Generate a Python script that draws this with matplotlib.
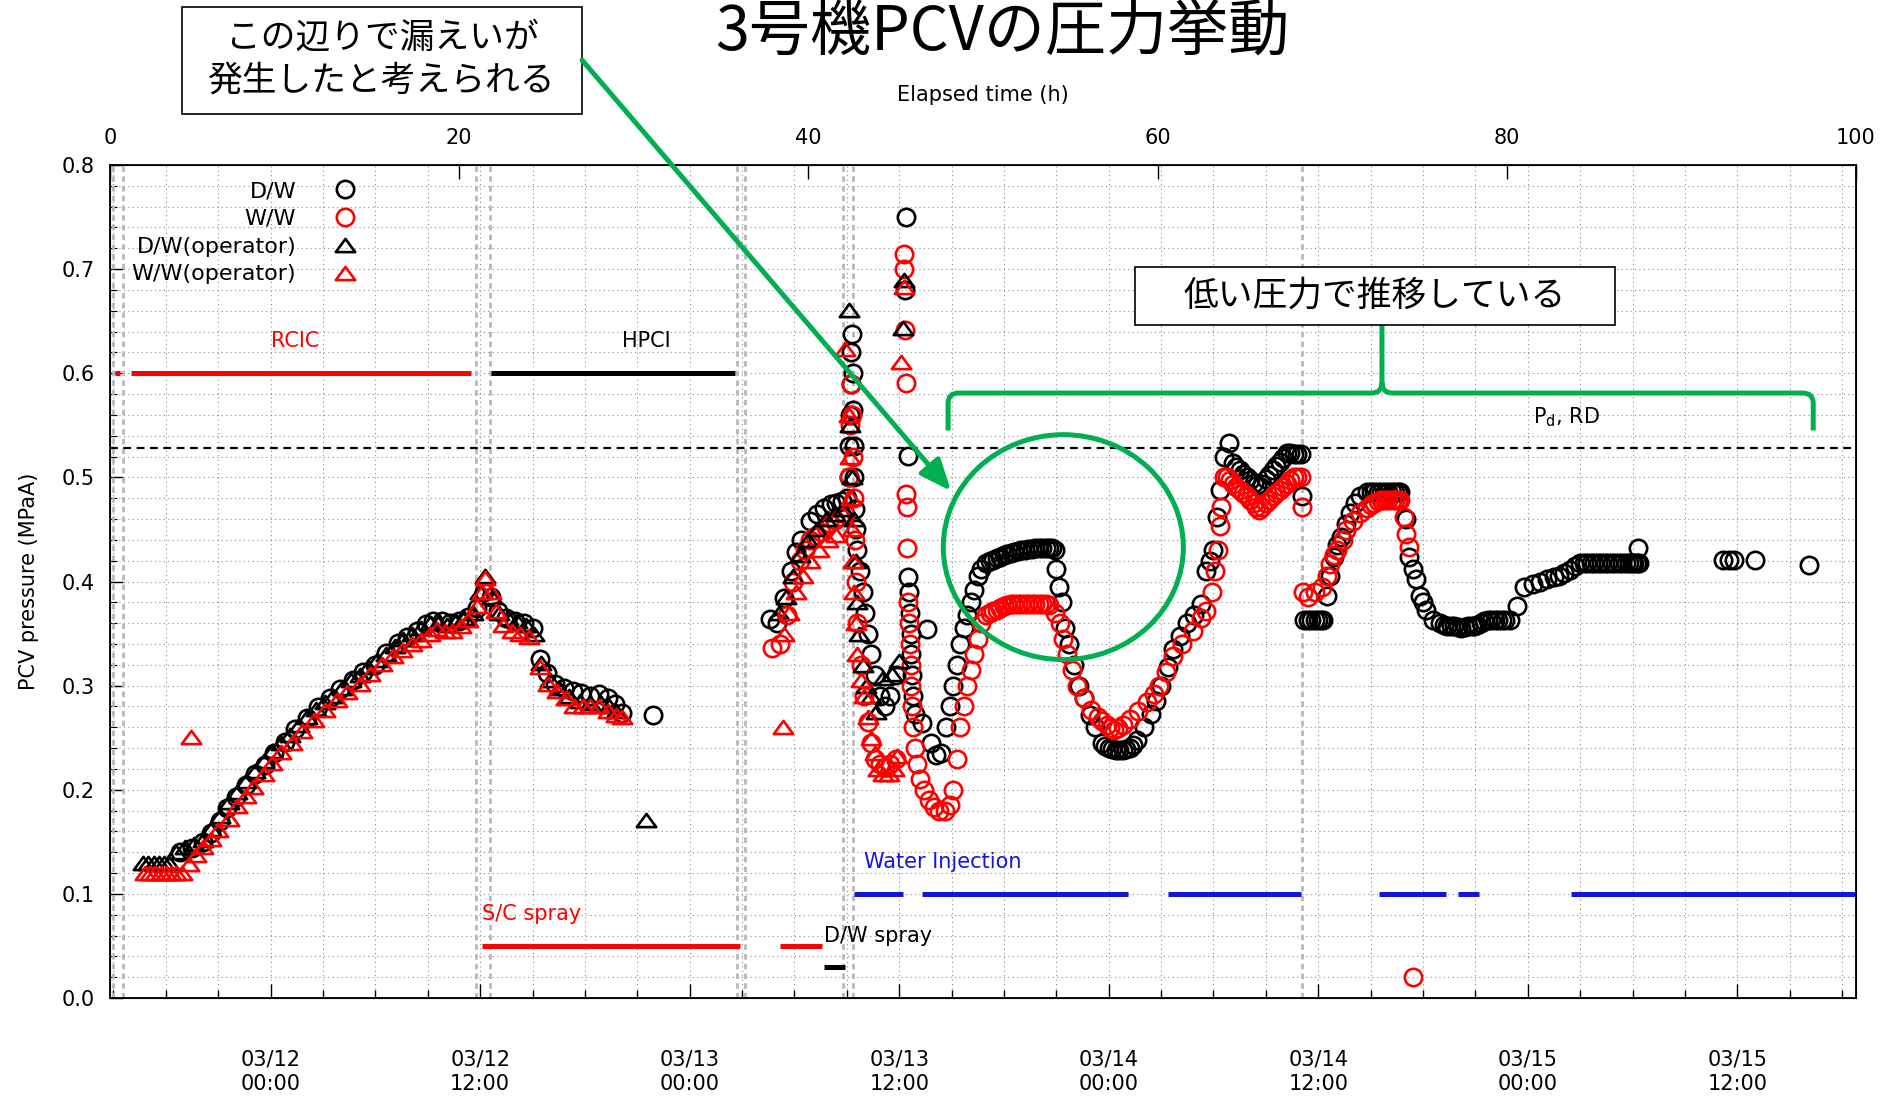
import matplotlib
matplotlib.use("Agg")
import matplotlib.pyplot as plt
import numpy as np
from matplotlib.path import Path
from matplotlib.patches import PathPatch, Ellipse, Rectangle, FancyArrowPatch

plt.rcParams['font.family'] = ['DejaVu Sans', 'Noto Sans CJK JP']
JP = ['Noto Sans CJK JP', 'DejaVu Sans']

# ---- measured pressures (elapsed hours, MPa abs) ----
dw_t = [4.0, 4.7, 5.3, 5.8, 6.3, 6.7, 7.2, 7.8, 8.3, 8.9, 9.4, 10.0, 10.6, 11.3, 11.9, 12.6,
        13.2, 13.9, 14.5, 15.2, 15.8, 16.5, 17.0, 17.6, 18.1, 18.5, 19.0, 19.5, 20.0, 20.5,
        21.0, 21.4, 21.8, 22.2, 22.7, 23.2, 23.7, 24.2, 24.6, 25.0, 25.5, 26.0, 26.5, 27.0,
        27.5, 28.0, 28.5, 28.9, 29.3, 31.1,
        37.8, 38.2, 38.6, 39.0, 39.3, 39.6, 40.1, 40.5, 40.9, 41.3, 41.6, 41.9, 42.2, 42.3,
        42.35, 42.4, 42.45, 42.45, 42.5, 42.55, 42.55, 42.6, 42.6, 42.65, 42.7, 42.8, 42.95,
        43.1, 43.25, 43.4, 43.6, 43.8, 44.1, 44.4, 44.7, 45.0,
        45.6, 45.55, 45.7, 45.7, 45.75, 45.8, 45.85, 45.9, 45.95, 46.0, 46.1, 46.5, 46.8,
        47.0, 47.3, 47.6, 47.9, 48.1, 48.3, 48.5, 48.7, 48.9, 49.1, 49.3, 49.5, 49.7, 49.9,
        50.2, 50.4, 50.6, 50.8, 51.0, 51.2, 51.4, 51.6, 51.8, 52.0, 52.2, 52.4, 52.6, 52.8,
        53.0, 53.2, 53.4, 53.6, 53.8, 53.95, 54.1, 54.2, 54.35, 54.5,
        54.7, 54.9, 55.2, 55.5, 55.8, 56.1, 56.4, 56.8, 57.0, 57.2, 57.4, 57.6, 57.8, 58.0,
        58.2, 58.4, 58.6, 58.8, 59.2,
        59.6, 59.9, 60.2, 60.6, 60.9, 61.3, 61.7, 62.1, 62.5, 62.8, 63.0, 63.2, 63.4, 63.6,
        63.8, 64.1, 64.3, 64.5, 64.7, 64.9, 65.1, 65.3, 65.5, 65.7, 65.9, 66.0, 66.2, 66.4,
        66.6, 66.8, 67.0, 67.2, 67.4, 67.6, 67.8, 68.0, 68.2, 68.25,
        68.4, 68.6, 68.8, 69.0, 69.2, 69.35, 69.5, 69.7, 69.9, 70.1, 70.3, 70.5, 70.8, 71.0,
        71.3, 71.6, 72.0, 72.2, 72.4, 72.6, 72.8, 73.0, 73.2, 73.4, 73.6, 73.75, 73.9, 74.2,
        74.4, 74.6, 74.8, 75.0, 75.2, 75.4, 75.8, 76.2, 76.4, 76.6, 76.8, 77.0, 77.2, 77.4,
        77.6, 77.8, 78.0, 78.1, 78.3, 78.5, 78.7, 78.9, 79.1, 79.3, 79.5, 79.7, 79.9, 80.2,
        80.6, 81.0, 81.5, 81.9, 82.3, 82.7, 83.0, 83.3, 83.6, 83.9, 84.2, 84.4, 84.6, 84.8,
        85.0, 85.2, 85.4, 85.6, 85.8, 86.0, 86.2, 86.4, 86.6, 86.8, 87.0, 87.15, 87.3, 87.45,
        87.6, 87.5, 92.4, 92.7, 93.0, 94.2, 97.3]
dw_p = [0.140, 0.144, 0.150, 0.158, 0.170, 0.182, 0.193, 0.205, 0.215, 0.224, 0.235, 0.246,
        0.258, 0.269, 0.279, 0.288, 0.297, 0.305, 0.313, 0.320, 0.331, 0.341, 0.347, 0.352,
        0.359, 0.362, 0.362, 0.360, 0.362, 0.366, 0.375, 0.390, 0.385, 0.372, 0.365, 0.362,
        0.360, 0.355, 0.326, 0.312, 0.302, 0.298, 0.295, 0.293, 0.290, 0.292, 0.288, 0.282,
        0.274, 0.272,
        0.364, 0.360, 0.384, 0.410, 0.428, 0.440, 0.458, 0.465, 0.471, 0.474, 0.475, 0.477,
        0.480, 0.500, 0.530, 0.560, 0.590, 0.620, 0.638, 0.600, 0.565, 0.530, 0.500, 0.470,
        0.450, 0.430, 0.410, 0.390, 0.370, 0.350, 0.330, 0.310, 0.290, 0.280, 0.290, 0.310,
        0.750, 0.680, 0.521, 0.404, 0.390, 0.370, 0.350, 0.330, 0.310, 0.290, 0.273, 0.264,
        0.354, 0.245, 0.233, 0.235, 0.260, 0.280, 0.300, 0.320, 0.340, 0.355, 0.368, 0.380,
        0.392, 0.405, 0.412, 0.418, 0.420, 0.421, 0.423, 0.424, 0.425, 0.426, 0.427, 0.428,
        0.429, 0.430, 0.430, 0.431, 0.431, 0.432, 0.432, 0.432, 0.432, 0.432, 0.432,
        0.430, 0.412, 0.395, 0.380,
        0.355, 0.340, 0.320, 0.300, 0.288, 0.272, 0.260, 0.245, 0.242, 0.240, 0.239, 0.238,
        0.238, 0.238, 0.239, 0.240, 0.243, 0.248, 0.260,
        0.273, 0.285, 0.300, 0.318, 0.335, 0.348, 0.360, 0.368, 0.378, 0.410, 0.420, 0.430,
        0.462, 0.488, 0.520, 0.533, 0.514, 0.510, 0.507, 0.503, 0.500, 0.497, 0.495, 0.493,
        0.491, 0.494, 0.498, 0.502, 0.507, 0.511, 0.515, 0.519, 0.523, 0.523, 0.522, 0.522,
        0.522, 0.482,
        0.363, 0.363, 0.363, 0.363, 0.363, 0.363, 0.363, 0.386, 0.405, 0.424, 0.435, 0.443,
        0.455, 0.466, 0.475, 0.482, 0.486, 0.486, 0.486, 0.486, 0.486, 0.486, 0.486, 0.486,
        0.486, 0.486, 0.486, 0.460, 0.424, 0.412, 0.402, 0.386, 0.380, 0.373, 0.363, 0.360,
        0.358, 0.357, 0.357, 0.357, 0.356, 0.355, 0.356, 0.357, 0.357, 0.357, 0.358, 0.360,
        0.362, 0.363, 0.363, 0.363, 0.363, 0.363, 0.363, 0.363, 0.376, 0.395, 0.398, 0.400,
        0.402, 0.404, 0.405, 0.408, 0.411, 0.415, 0.418, 0.418, 0.418, 0.418, 0.418, 0.418,
        0.418, 0.418, 0.418, 0.418, 0.418, 0.418, 0.418, 0.418, 0.418, 0.418, 0.418, 0.418,
        0.418, 0.432, 0.421, 0.421, 0.421, 0.421, 0.416]

ww_t = [37.9, 38.4, 38.75, 39.1, 39.5, 39.8, 40.1, 40.4, 40.7, 41.0, 41.2, 41.5, 41.8, 42.1,
        42.35, 42.4, 42.45, 42.5, 42.55, 42.6, 42.65, 42.7, 42.8, 43.0, 43.2, 43.4, 43.6,
        43.8, 44.1, 44.4, 44.7, 45.0,
        45.5, 45.5, 45.55, 45.6, 45.6, 45.65, 45.65, 45.7, 45.75, 45.8, 45.85, 45.9, 45.95,
        46.0, 46.1, 46.2, 46.4, 46.6, 46.9, 47.2, 47.5, 47.8, 48.1, 48.3, 48.5, 48.7, 48.9,
        49.1, 49.3, 49.5, 49.7, 49.9, 50.2, 50.4, 50.6, 50.8, 51.0, 51.2, 51.4, 51.6, 51.8,
        52.0, 52.2, 52.4, 52.6, 52.8, 53.0, 53.2, 53.4, 53.6,
        53.8, 54.1, 54.4, 54.6, 54.8, 55.1, 55.4, 55.8, 56.2, 56.6, 56.8, 57.1, 57.3, 57.5,
        57.75, 58.0, 58.4,
        58.9, 59.4, 59.8, 60.1, 60.5, 60.9, 61.4, 62.0, 62.5, 62.8, 63.1, 63.3, 63.45, 63.55,
        63.65, 63.8, 64.0, 64.15, 64.3, 64.5, 64.7, 64.9, 65.1, 65.3, 65.5, 65.65, 65.8,
        66.0, 66.2, 66.4, 66.6, 66.8, 67.0, 67.2, 67.4, 67.6, 67.8, 68.0, 68.2, 68.25,
        68.3, 68.6, 69.0, 69.4, 69.7, 69.9, 70.1, 70.3, 70.6, 70.8, 71.2, 71.6, 72.0, 72.2,
        72.4, 72.6, 72.8, 73.0, 73.2, 73.4, 73.6, 73.75, 73.9, 74.1, 74.2, 74.4, 74.6]
ww_p = [0.336, 0.340, 0.368, 0.400, 0.420, 0.430, 0.440, 0.444, 0.448, 0.452, 0.456, 0.459,
        0.462, 0.465, 0.500, 0.550, 0.590, 0.560, 0.520, 0.480, 0.440, 0.400, 0.360, 0.320,
        0.290, 0.265, 0.245, 0.230, 0.225, 0.222, 0.225, 0.230,
        0.715, 0.700, 0.642, 0.591, 0.484, 0.472, 0.432, 0.380, 0.360, 0.340, 0.320, 0.300,
        0.280, 0.260, 0.240, 0.225, 0.210, 0.200, 0.190, 0.183, 0.180, 0.180, 0.185, 0.200,
        0.230, 0.260, 0.280, 0.300, 0.315, 0.330, 0.345, 0.360, 0.368, 0.370, 0.372, 0.373,
        0.375, 0.376, 0.377, 0.378, 0.378, 0.378, 0.378, 0.378, 0.378, 0.378, 0.378, 0.378,
        0.378, 0.378,
        0.377, 0.370, 0.360, 0.345, 0.330, 0.315, 0.300, 0.288, 0.277, 0.270, 0.266, 0.262,
        0.259, 0.257, 0.259, 0.262, 0.268,
        0.276, 0.284, 0.292, 0.300, 0.313, 0.328, 0.340, 0.352, 0.365, 0.372, 0.390, 0.410,
        0.430, 0.453, 0.472, 0.500, 0.500, 0.497, 0.494, 0.491, 0.488, 0.485, 0.482, 0.478,
        0.475, 0.472, 0.469, 0.472, 0.475, 0.478, 0.482, 0.485, 0.488, 0.491, 0.494, 0.497,
        0.500, 0.500, 0.500, 0.472,
        0.390, 0.385, 0.390, 0.395, 0.405, 0.417, 0.425, 0.430, 0.440, 0.449, 0.458, 0.466,
        0.471, 0.473, 0.475, 0.477, 0.478, 0.478, 0.478, 0.478, 0.478, 0.478, 0.478, 0.462,
        0.446, 0.433, 0.020]

# operator readings
dwop_t = [1.9, 2.2, 2.5, 2.8, 3.1, 3.4, 3.8, 4.3, 4.8, 5.3, 5.8, 6.3, 6.8, 7.3, 7.8, 8.3,
          8.8, 9.3, 9.8, 10.3, 10.8, 11.3, 11.8, 12.3, 12.8, 13.3, 13.8, 14.3, 14.8, 15.3,
          15.8, 16.3, 16.8, 17.3, 17.8, 18.3, 18.8, 19.3, 19.8, 20.3, 20.8, 21.2, 21.5, 21.9,
          22.3, 22.8, 23.3, 23.8, 24.3, 24.7, 25.2, 25.7, 26.3, 26.9, 27.5, 28.1, 28.6, 29.0,
          30.7,
          38.3, 38.7, 39.1, 39.5, 40.0, 40.5, 41.0, 41.5, 42.0, 42.3, 42.4, 42.5, 42.6, 42.7,
          42.8, 42.9, 43.1, 43.3, 43.6, 43.9, 44.3, 44.8, 45.2, 45.45, 45.4]
dwop_p = [0.130, 0.130, 0.130, 0.130, 0.130, 0.130, 0.140, 0.145, 0.148, 0.152, 0.162, 0.175,
          0.188, 0.198, 0.208, 0.218, 0.228, 0.237, 0.245, 0.253, 0.262, 0.270, 0.278, 0.284,
          0.290, 0.298, 0.305, 0.310, 0.318, 0.325, 0.330, 0.338, 0.345, 0.350, 0.355, 0.360,
          0.360, 0.358, 0.362, 0.365, 0.370, 0.390, 0.405, 0.385, 0.370, 0.365, 0.362, 0.358,
          0.350, 0.322, 0.305, 0.298, 0.290, 0.285, 0.283, 0.283, 0.280, 0.276,
          0.171,
          0.370, 0.385, 0.405, 0.425, 0.440, 0.450, 0.460, 0.465, 0.470, 0.661, 0.550, 0.500,
          0.460, 0.420, 0.380, 0.350, 0.320, 0.300, 0.290, 0.275, 0.307, 0.311, 0.324, 0.690,
          0.643]

wwop_t = [2.0, 2.3, 2.6, 2.9, 3.2, 3.5, 3.8, 4.1, 4.5, 4.65, 4.9, 5.35, 5.8, 6.2, 6.8, 7.3,
          7.8, 8.2, 8.8, 9.3, 9.8, 10.4, 11.0, 11.7, 12.3, 13.0, 13.6, 14.3, 14.9, 15.6, 16.2,
          16.7, 17.3, 17.8, 18.3, 18.7, 19.2, 19.6, 20.1, 20.5, 21.0, 21.3, 21.5, 21.8, 22.1,
          22.5, 23.0, 23.5, 24.0, 24.6, 25.1, 25.6, 26.1, 26.6, 27.1, 27.5, 28.0, 28.5, 29.0,
          29.3,
          38.55, 38.6, 38.9, 39.3, 39.7, 40.1, 40.6, 41.1, 41.6, 42.1, 42.3, 42.4, 42.45, 42.5,
          42.55, 42.6, 42.7, 42.8, 43.0, 43.2, 43.4, 43.6, 43.8, 44.0, 44.3, 44.6, 44.9, 45.1,
          45.45, 45.3]
wwop_p = [0.120, 0.120, 0.120, 0.120, 0.120, 0.120, 0.120, 0.120, 0.129, 0.251, 0.137, 0.145,
          0.153, 0.161, 0.172, 0.184, 0.194, 0.203, 0.215, 0.226, 0.236, 0.245, 0.256, 0.267,
          0.277, 0.286, 0.294, 0.302, 0.311, 0.321, 0.328, 0.334, 0.340, 0.344, 0.350, 0.354,
          0.352, 0.352, 0.357, 0.363, 0.376, 0.390, 0.403, 0.390, 0.372, 0.358, 0.352, 0.350,
          0.347, 0.318, 0.302, 0.295, 0.288, 0.280, 0.280, 0.280, 0.280, 0.276, 0.272, 0.270,
          0.260, 0.350, 0.370, 0.390, 0.405, 0.420, 0.430, 0.440, 0.445, 0.623, 0.560, 0.520,
          0.480, 0.450, 0.420, 0.390, 0.360, 0.330, 0.305, 0.290, 0.270, 0.250, 0.235, 0.220,
          0.215, 0.215, 0.220, 0.232, 0.683, 0.611]

# system operation periods (start h, end h)
rcic_spans = [(0.3, 0.6), (1.2, 20.7)]
hpci_spans = [(21.8, 35.8)]
sc_spray_spans = [(21.3, 36.1), (38.4, 40.8)]
dw_spray_spans = [(40.9, 42.1)]
injection_spans = [(42.6, 45.4), (46.5, 58.3), (60.6, 68.2), (72.7, 76.5), (77.2, 78.4),
                   (83.7, 100.0)]
event_times = [0.15, 0.75, 20.95, 21.75, 35.9, 36.35, 42.0, 42.55, 68.25]
design_pressure = 0.528

# clock time axis: 03/12 00:00 falls at 9.2 h elapsed
clock_zero = 9.2
date_labels = ['03/12\n00:00', '03/12\n12:00', '03/13\n00:00', '03/13\n12:00',
               '03/14\n00:00', '03/14\n12:00', '03/15\n00:00', '03/15\n12:00']

GREEN = '#00b050'
RED = '#ff0000'
BLUE = '#1414dc'

fig = plt.figure(figsize=(18.88, 11.04), dpi=100)
ax = fig.add_axes([110 / 1888, 1 - 998 / 1104, 1746 / 1888, 833 / 1104])
ax.set_xlim(0, 100)
ax.set_ylim(0, 0.8)

# bottom axis: clock time
date_ticks = [clock_zero + 12 * i for i in range(len(date_labels))]
ax.set_xticks(date_ticks)
ax.set_xticklabels(date_labels, linespacing=1.3)
ax.set_xticks(np.arange(clock_zero - 9, 100, 3), minor=True)
ax.set_yticks(np.arange(0, 0.81, 0.1))
ax.set_yticklabels([f"{v:.1f}" for v in np.arange(0, 0.81, 0.1)])
ax.set_yticks(np.arange(0, 0.81, 0.02), minor=True)
ax.tick_params(axis='x', which='major', direction='in', length=10, width=1.0,
               labelsize=15, pad=37)
ax.tick_params(axis='x', which='minor', direction='in', length=6, width=1.0)
ax.tick_params(axis='y', which='major', direction='in', length=9, width=1.0,
               labelsize=15, pad=11)
ax.tick_params(axis='y', which='minor', direction='in', length=5, width=0.8)
ax.set_ylabel('PCV pressure (MPaA)', fontsize=15, labelpad=16)
ax.grid(which='both', ls=(0, (1, 3)), lw=0.8, color='0.55')
ax.set_axisbelow(True)
for s in ax.spines.values():
    s.set_linewidth(1.3)

# top axis: elapsed hours
axt = ax.twiny()
axt.set_xlim(0, 100)
axt.set_xticks(np.arange(0, 101, 20))
axt.tick_params(axis='x', direction='in', length=10, width=1.0, labelsize=15, pad=12)
axt.set_xlabel('Elapsed time (h)', fontsize=15, labelpad=19.5)

for t in event_times:
    ax.axvline(t, color='0.72', ls=(0, (2, 1.5)), lw=2.0, zorder=1)
ax.axhline(design_pressure, color='k', ls=(0, (3.5, 2.5)), lw=1.6, zorder=2)

for a, b in rcic_spans:
    ax.hlines(0.6, a, b, color=RED, lw=3.6)
for a, b in hpci_spans:
    ax.hlines(0.6, a, b, color='k', lw=3.6)
for a, b in sc_spray_spans:
    ax.hlines(0.05, a, b, color=RED, lw=3.6)
for a, b in dw_spray_spans:
    ax.hlines(0.03, a, b, color='k', lw=3.6)
for a, b in injection_spans:
    ax.hlines(0.1, a, b, color=BLUE, lw=3.6)

ax.text(10.6, 0.631, 'RCIC', color=RED, fontsize=15, ha='center', va='center')
ax.text(30.7, 0.631, 'HPCI', color='k', fontsize=15, ha='center', va='center')
ax.text(21.3, 0.081, 'S/C spray', color=RED, fontsize=15, ha='left', va='center')
ax.text(40.9, 0.060, 'D/W spray', color='k', fontsize=15, ha='left', va='center')
ax.text(43.2, 0.131, 'Water Injection', color=BLUE, fontsize=15, ha='left', va='center')
ax.text(83.4, 0.558, r'P$_\mathrm{d}$, RD', color='k', fontsize=15, ha='center', va='center')

# wide, flat triangle like the logger's plot symbol
tri = Path([(0, 0.68), (-1, -0.68), (1, -0.68), (0, 0.68)],
           [Path.MOVETO, Path.LINETO, Path.LINETO, Path.CLOSEPOLY])
circ_kw = dict(ls='none', marker='o', ms=12.5, mfc='none', mew=1.9)
tri_kw = dict(ls='none', marker=tri, ms=14, mfc='none', mew=1.9)
h1, = ax.plot(dw_t, dw_p, mec='k', label='D/W', zorder=3, **circ_kw)
h2, = ax.plot(ww_t, ww_p, mec=RED, label='W/W', zorder=3, **circ_kw)
h3, = ax.plot(dwop_t, dwop_p, mec='k', label='D/W(operator)', zorder=4, **tri_kw)
h4, = ax.plot(wwop_t, wwop_p, mec=RED, label='W/W(operator)', zorder=4, **tri_kw)

ax.legend(handles=[h1, h2, h3, h4], loc='upper left', bbox_to_anchor=(0.006, 0.994),
          frameon=False, markerfirst=False, fontsize=16, handlelength=1.4,
          handletextpad=1.5, labelspacing=0.35, borderaxespad=0.1)

# annotations
ax.add_patch(Ellipse((54.6, 0.433), 13.75, 0.216, fill=False, ec=GREEN, lw=3.6, zorder=6))

rx, ry = 0.6, 0.01
yb, yh = 0.545, 0.581
xl, xm, xr, ytip = 48.0, 72.85, 97.55, 0.6465
verts = [(xl, yb), (xl, yh - ry), (xl, yh), (xl + rx, yh), (xm - rx, yh), (xm, yh),
         (xm, yh + ry), (xm, ytip),
         (xm, yh + ry), (xm, yh), (xm + rx, yh), (xr - rx, yh), (xr, yh), (xr, yh - ry),
         (xr, yb)]
codes = [Path.MOVETO, Path.LINETO, Path.CURVE3, Path.CURVE3, Path.LINETO, Path.CURVE3,
         Path.CURVE3, Path.LINETO,
         Path.MOVETO, Path.CURVE3, Path.CURVE3, Path.LINETO, Path.CURVE3, Path.CURVE3,
         Path.LINETO]
ax.add_patch(PathPatch(Path(verts, codes), fill=False, ec=GREEN, lw=3.6, zorder=6,
                       capstyle='butt'))

ax.add_patch(Rectangle((58.7, 0.6465), 27.5, 0.0557, fc='white', ec='k', lw=1.2, zorder=7))
ax.text(72.45, 0.6744, '低い圧力で推移している', family=JP, fontsize=25,
        ha='center', va='center', zorder=8)

fig.add_artist(Rectangle((182 / 1888, 1 - 114 / 1104), 400 / 1888, 107 / 1104,
                         transform=fig.transFigure, fc='white', ec='k', lw=1.2, zorder=7))
fig.text(382 / 1888, 1 - 60 / 1104, 'この辺りで漏えいが\n発生したと考えられる',
         family=JP, fontsize=25, ha='center', va='center', linespacing=1.3, zorder=8)

fig.add_artist(FancyArrowPatch((582 / 1888, 1 - 60 / 1104), (951 / 1888, 1 - 491 / 1104),
                               transform=fig.transFigure,
                               arrowstyle='-|>,head_length=0.95,head_width=0.4',
                               mutation_scale=20, lw=3.6, color=GREEN,
                               shrinkA=0, shrinkB=0, zorder=9))

fig.text(1002 / 1888, 0.999, '3号機PCVの圧力挙動', family=JP, fontsize=44,
         ha='center', va='top')

fig.savefig('out.png', dpi=100)
